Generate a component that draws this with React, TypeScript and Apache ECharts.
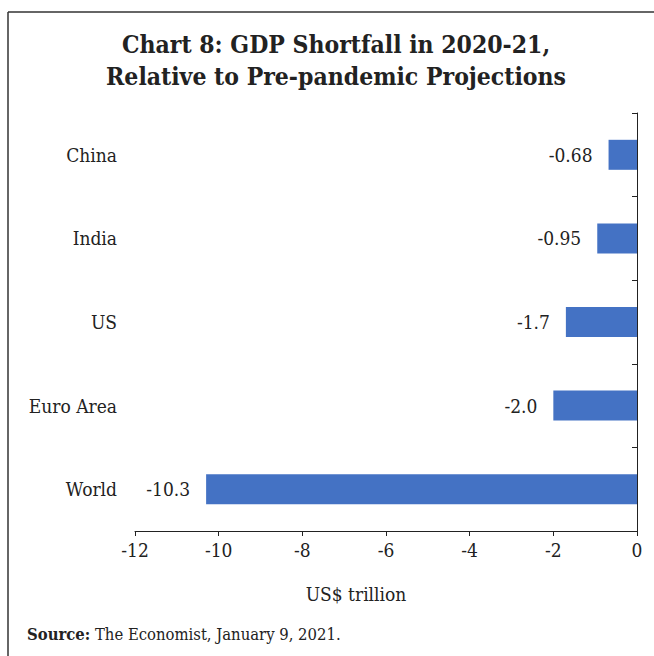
import React, { useEffect, useRef } from "react";
import * as echarts from "echarts";

const categories = ["World", "Euro Area", "US", "India", "China"];
const values = [-10.3, -2.0, -1.7, -0.95, -0.68];
const valueLabels = ["-10.3", "-2.0", "-1.7", "-0.95", "-0.68"];
const titleLines = ["Chart 8: GDP Shortfall in 2020-21,", "Relative to Pre-pandemic Projections"];
const axisName = "US$ trillion";
const xMin = -12;
const xMax = 0;
const xInterval = 2;

const FONT = "'DejaVu Serif Condensed', 'Liberation Serif', serif";

export default function App() {
  const ref = useRef<HTMLDivElement>(null);
  useEffect(() => {
    if (!ref.current) return;
    const chart = echarts.init(ref.current, undefined, { renderer: "svg" });
    chart.setOption({
      animation: false,
      backgroundColor: "#ffffff",
      textStyle: { fontFamily: FONT },
      grid: { left: 135, right: 17, top: 113, bottom: 125 },
      xAxis: {
        type: "value",
        min: xMin,
        max: xMax,
        interval: xInterval,
        axisLine: { show: true, lineStyle: { color: "#222", width: 1 } },
        axisTick: { show: true, length: 5, lineStyle: { color: "#222" } },
        splitLine: { show: false },
        axisLabel: { color: "#222", fontSize: 19, fontFamily: FONT, margin: 9 },
      },
      yAxis: [
        {
          type: "category",
          data: categories,
          position: "left",
          axisLine: { show: false },
          axisTick: { show: false },
          axisLabel: { color: "#222", fontSize: 19, fontFamily: FONT, margin: 18 },
        },
        {
          type: "category",
          data: categories,
          position: "right",
          axisLine: { show: true, onZero: false, lineStyle: { color: "#222", width: 1 } },
          axisTick: { show: true, inside: true, length: 5, lineStyle: { color: "#222" } },
          axisLabel: { show: false },
        },
      ],
      series: [
        {
          type: "bar",
          yAxisIndex: 0,
          data: values,
          barWidth: 30,
          itemStyle: { color: "#4472C4" },
          label: {
            show: true,
            position: "left",
            distance: 16,
            color: "#222",
            fontSize: 19,
            fontFamily: FONT,
            formatter: (p: any) => valueLabels[p.dataIndex],
          },
        },
      ],
      graphic: [
        {
          type: "line",
          shape: { x1: 8, y1: 12, x2: 654, y2: 12 },
          style: { stroke: "#333", lineWidth: 1.5 },
        },
        {
          type: "line",
          shape: { x1: 8, y1: 12, x2: 8, y2: 656 },
          style: { stroke: "#333", lineWidth: 1.5 },
        },
        {
          type: "text",
          x: 336,
          y: 44,
          style: {
            text: titleLines[0],
            font: `bold 24.5px ${FONT}`,
            fill: "#222",
            textAlign: "center",
            textVerticalAlign: "middle",
          },
        },
        {
          type: "text",
          x: 336,
          y: 76,
          style: {
            text: titleLines[1],
            font: `bold 24.5px ${FONT}`,
            fill: "#222",
            textAlign: "center",
            textVerticalAlign: "middle",
          },
        },
        {
          type: "text",
          x: 356,
          y: 594,
          style: {
            text: axisName,
            font: `19px ${FONT}`,
            fill: "#222",
            textAlign: "center",
            textVerticalAlign: "middle",
          },
        },
        {
          type: "text",
          x: 27,
          y: 634,
          style: {
            text: "{b|Source:} The Economist, January 9, 2021.",
            rich: {
              b: { fontWeight: "bold", fontSize: 16.5, fontFamily: FONT, fill: "#222" },
            },
            fontSize: 16.5,
            fontFamily: FONT,
            fill: "#222",
            textVerticalAlign: "middle",
          },
        },
      ],
    });
    return () => chart.dispose();
  }, []);
  return (
    <div
      ref={ref}
      style={{ position: "fixed", left: 0, top: 0, width: 654, height: 656 }}
    />
  );
}
